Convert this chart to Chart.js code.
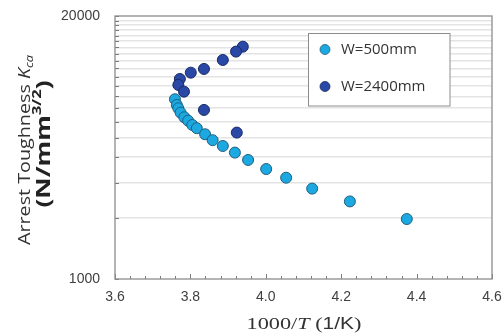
<!DOCTYPE html>
<html><head><meta charset="utf-8">
<script src="https://cdn.jsdelivr.net/npm/chart.js@4/dist/chart.umd.min.js"></script>
<style>html,body{margin:0;padding:0;background:#fff;}#wrap{width:502px;height:336px;}</style>
</head><body><div id="wrap"><canvas id="c" width="502" height="336"></canvas></div>
<script>
const seriesNames = ['W=500mm', 'W=2400mm'];
const w500X = [3.759,3.764,3.768,3.774,3.784,3.794,3.805,3.817,3.839,3.859,3.886,3.918,3.953,4.001,4.054,4.123,4.223,4.374];
const w500Y = [7750,7260,6990,6650,6310,6070,5780,5570,5200,4860,4550,4220,3880,3500,3170,2800,2420,1980];
const w2400X = [3.939,3.921,3.886,3.836,3.801,3.772,3.768,3.783,3.836,3.923];
const w2400Y = [14100,13330,12120,10940,10490,9760,9120,8450,6860,5300];
const xTickValues = [3.6,3.8,4.0,4.2,4.4,4.6];
const yGridValues = [1000,2000,3000,4000,5000,6000,7000,8000,9000,10000,11000,12000,13000,14000,15000,16000,17000,18000,19000,20000];
const yTickLabels = [1000, 20000];

const colors = [
  {bg:'#1ca8e0', border:'#215f7e'},
  {bg:'#2a48a6', border:'#172a62'}
];

function toPoints(xs, ys){ return xs.map((v,i)=>({x:v, y:ys[i]})); }

function drawRich(ctx, segs, cx, cy, angle, target, color){
  ctx.save();
  let W = 0;
  const widths = segs.map(s=>{ ctx.font = s.font; const w = ctx.measureText(s.text).width; W += w; return w; });
  const k = target / W;
  ctx.translate(cx, cy);
  ctx.rotate(angle);
  ctx.scale(k, 1);
  ctx.fillStyle = color;
  ctx.textBaseline = 'middle';
  ctx.textAlign = 'left';
  let x = -W/2;
  segs.forEach((s,i)=>{ ctx.font = s.font; ctx.fillStyle = s.color || color; ctx.fillText(s.text, x, s.dy || 0); x += widths[i]; });
  ctx.restore();
}

const decor = {
  id: 'decor',
  afterDraw(chart){
    const {ctx, chartArea: a, scales: {x, y}} = chart;
    ctx.save();
    // inward ticks
    ctx.strokeStyle = '#7a7a7a'; ctx.lineWidth = 1;
    ctx.beginPath();
    for (let i = 0; i <= 25; i++){
      const v = 3.6 + i*0.04;
      const px = Math.round(x.getPixelForValue(v)) + 0.5;
      const len = (i % 5 === 0) ? 5 : 3;
      ctx.moveTo(px, a.bottom); ctx.lineTo(px, a.bottom - len);
    }
    yGridValues.forEach(v=>{
      const py = Math.round(y.getPixelForValue(v)) + 0.5;
      ctx.moveTo(a.left, py); ctx.lineTo(a.left + 4, py);
    });
    ctx.stroke();
    // frame
    ctx.strokeStyle = '#8c8c8c'; ctx.lineWidth = 1.3;
    ctx.strokeRect(a.left, a.top, a.right - a.left, a.bottom - a.top);
    // legend
    const lx = 308.5, ly = 33.5, lw = 141.5, lh = 72.5;
    ctx.fillStyle = '#fff'; ctx.fillRect(lx, ly, lw, lh);
    ctx.strokeStyle = '#8c8c8c'; ctx.lineWidth = 1;
    ctx.strokeRect(lx, ly, lw, lh);
    const rows = [49.5, 86.5];
    seriesNames.forEach((name, i)=>{
      ctx.beginPath();
      ctx.arc(325, rows[i], 5, 0, Math.PI*2);
      ctx.fillStyle = colors[i].bg; ctx.fill();
      ctx.strokeStyle = colors[i].border; ctx.lineWidth = 0.8; ctx.stroke();
      ctx.fillStyle = '#333';
      ctx.font = '15px "Open Sans"';
      ctx.textBaseline = 'middle'; ctx.textAlign = 'left';
      ctx.fillText(name, 341, rows[i]);
    });
    ctx.restore();
    // y title
    drawRich(ctx, [
      {text:'Arrest Toughness ', font:'17px "Open Sans"'},
      {text:'K', font:'italic 17px "Open Sans"'},
      {text:'ca', font:'italic 11px "Open Sans"', dy:5}
    ], 25, 150, -Math.PI/2, 190, '#333');
    drawRich(ctx, [
      {text:'(N/mm', font:'bold 19px "Open Sans"'},
      {text:'3/2', font:'bold 12px "Open Sans"', dy:-7},
      {text:')', font:'bold 19px "Open Sans"'}
    ], 45, 144, -Math.PI/2, 127, '#222');
    // x title
    drawRich(ctx, [
      {text:'1000/', font:'17px "Liberation Serif"'},
      {text:'T', font:'italic 17px "Liberation Serif"'},
      {text:' (', font:'17px "Liberation Serif"'},
      {text:'1/K', font:'16px "Liberation Sans"'},
      {text:')', font:'17px "Liberation Serif"'}
    ], 304, 325, 0, 115, '#333');
  }
};

new Chart(document.getElementById('c'), {
  type: 'scatter',
  data: {
    datasets: [
      {label: seriesNames[0], data: toPoints(w500X, w500Y), backgroundColor: colors[0].bg, borderColor: colors[0].border, borderWidth: 1, pointRadius: 5.5, pointHoverRadius: 5.5},
      {label: seriesNames[1], data: toPoints(w2400X, w2400Y), backgroundColor: colors[1].bg, borderColor: colors[1].border, borderWidth: 1, pointRadius: 5.5, pointHoverRadius: 5.5}
    ]
  },
  options: {
    responsive: false,
    animation: false,
    devicePixelRatio: 1,
    layout: {padding: {left: 0, right: 10, top: 16, bottom: 0}},
    plugins: {legend: {display: false}, tooltip: {enabled: false}},
    scales: {
      x: {
        type: 'linear', min: 3.6, max: 4.6,
        afterBuildTicks: s => { s.ticks = xTickValues.map(v=>({value:v})); },
        afterFit: s => { s.height = 57; s.paddingLeft = 0; s.paddingRight = 0; },
        grid: {display: false, drawTicks: false},
        border: {display: false},
        ticks: {padding: 10, color: '#404040', font: {family: 'Liberation Sans', size: 14}, callback: v => Number(v).toFixed(1), autoSkip: false, maxRotation: 0}
      },
      y: {
        type: 'logarithmic', min: 1000, max: 20000,
        afterBuildTicks: s => { s.ticks = yGridValues.map(v=>({value:v})); },
        afterFit: s => { s.width = 115; s.paddingTop = 0; s.paddingBottom = 0; },
        grid: {drawTicks: false, lineWidth: 1.6, color: ctx => (ctx.tick && (ctx.tick.value === 1000 || ctx.tick.value === 20000)) ? 'rgba(0,0,0,0)' : '#e4e4e4'},
        border: {display: false},
        ticks: {padding: 15, color: '#404040', font: {family: 'Liberation Sans', size: 14}, autoSkip: false, callback: v => yTickLabels.includes(v) ? String(v) : ''}
      }
    }
  },
  plugins: [decor]
});
</script>
</body></html>
